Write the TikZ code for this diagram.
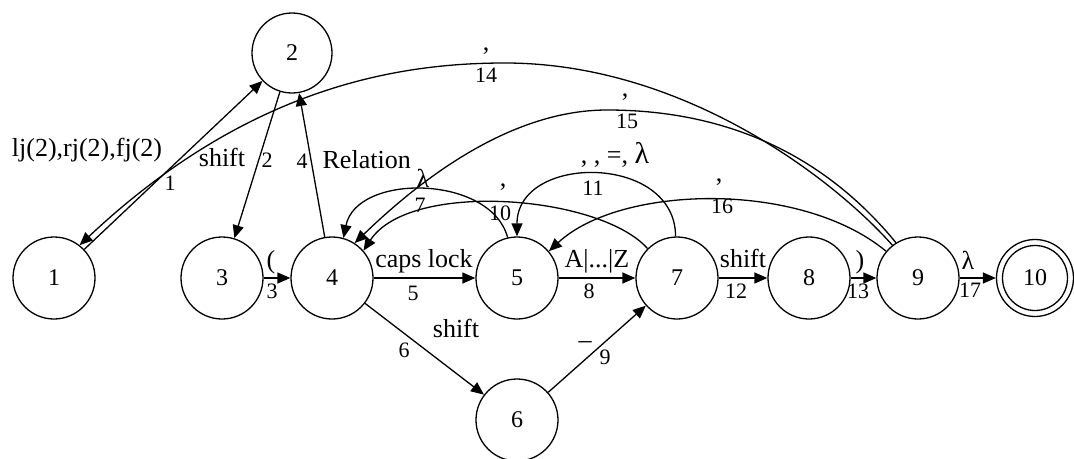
\documentclass[tikz,border=0pt]{standalone}
\usepackage{fontspec}
\setmainfont{Liberation Serif}
\usetikzlibrary{arrows.meta}
\begin{document}
\begin{tikzpicture}[x=1pt,y=-1pt,line width=1.3pt,
  state/.style={circle,draw,minimum size=82pt,inner sep=0pt,font=\fontsize{24}{26}\selectfont},
  arr/.style={-{Triangle[length=13pt,width=11pt]}},
  lbl/.style={inner sep=0pt,anchor=base,font=\fontsize{26}{28}\selectfont},
  num/.style={inner sep=0pt,anchor=base,font=\fontsize{22}{24}\selectfont}]
\useasboundingbox (0,0) rectangle (1074,458);
% states
\node[state] (n1) at (54,278) {1};
\node[state,minimum size=80pt] (n2) at (292,53) {2};
\node[state] (n3) at (222,278) {3};
\node[state] (n4) at (332,278) {4};
\node[state] (n5) at (517,278) {5};
\node[state] (n6) at (517,420) {6};
\node[state] (n7) at (677,278) {7};
\node[state] (n8) at (809,278) {8};
\node[state] (n9) at (918,278) {9};
\node[state,minimum size=77pt] (n10) at (1035,278) {10};
\node[circle,draw,minimum size=65pt,inner sep=0pt] (n10i) at (n10) {};
% helper coordinates for long arcs
\coordinate (c14) at (505,63);
\coordinate (c15) at (607,110);
% straight edges
\draw[arr] (n1) -- (n2);
\draw[arr] (n2) -- (n3);
\draw[arr] (n4) -- (n2);
\draw[arr] (n3) -- (n4);
\draw[arr] (n4) -- (n5);
\draw[arr] (n4) -- (n6);
\draw[arr] (n5) -- (n7);
\draw[arr] (n6) -- (n7);
\draw[arr] (n7) -- (n8);
\draw[arr] (n8) -- (n9);
\draw[arr] (n9) -- (n10);
% curved edges
\draw[arr] (n5.103) .. controls +(-17,-63) and +(13,-65) .. (n4.74);
\draw[arr] (n7.135) .. controls (600,195) and (410,180) .. (n4.41);
\draw[arr] (n7.92) .. controls +(0,-83) and +(0,-83) .. (n5.90);
\draw[arr] (n9.140) .. controls (800,180) and (620,185) .. (n5.40);
\draw[arr] (n9.122) .. controls (820,150) and (720,110) .. (c15)
  .. controls (510,110) and (420,180) .. (n4.57);
\draw[arr] (n9.128) .. controls (830,175) and (680,63) .. (c14)
  .. controls (400,63) and (249,86) .. (n1.52);
% labels
\node[lbl] (la1) at (87,156) {lj(2),rj(2),fj(2)};
\node[num] (ln1) at (170,190) {1};
\node[lbl] (la2) at (222,166) {shift};
\node[num] (ln2) at (267,167) {2};
\node[num] (ln4) at (302,168) {4};
\node[lbl,anchor=base west] (la4) at (322,168) {Relation};
\node[lbl] (la3) at (271,268) {(};
\node[num] (ln3) at (272,298) {3};
\node[lbl] (la5) at (424,267) {caps lock};
\node[num] (ln5) at (413,300) {5};
\node[lbl] (la6) at (456,337) {shift};
\node[num] (ln6) at (404,357) {6};
\node[lbl] (la8) at (597,267) {A|...|Z};
\node[num] (ln8) at (589,298) {8};
\node[lbl] (la9) at (585,339) {\_};
\node[num] (ln9) at (605,364) {9};
\node[lbl] (la12) at (743,267) {shift};
\node[num] (ln12) at (736,298) {12};
\node[lbl] (la13) at (860,268) {)};
\node[num] (ln13) at (858,298) {13};
\node[lbl] (la17) at (968,269) {λ};
\node[num] (ln17) at (970,297) {17};
\node[lbl] (la7) at (423,187) {λ};
\node[num] (ln7) at (420,212) {7};
\node[lbl] (la10) at (503,186) {,};
\node[num] (ln10) at (500,220) {10};
\node[lbl] (la11) at (615,163) {, , =, {\fontsize{30}{32}\selectfont λ}};
\node[num] (ln11) at (593,195) {11};
\node[lbl] (la15) at (625,96) {,};
\node[num] (ln15) at (627,128) {15};
\node[lbl] (la14) at (486,50) {,};
\node[num] (ln14) at (486,82) {14};
\node[lbl] (la16) at (719,181) {,};
\node[num] (ln16) at (722,213) {16};
\end{tikzpicture}
\end{document}
